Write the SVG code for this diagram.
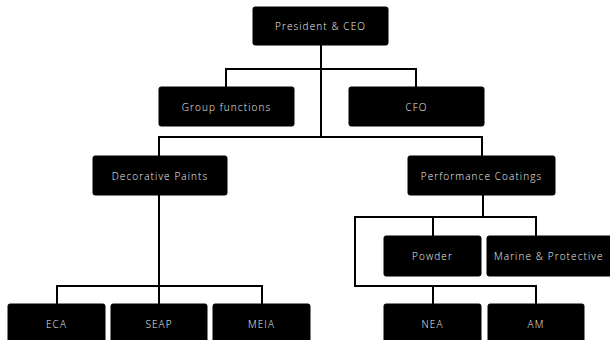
<svg xmlns="http://www.w3.org/2000/svg" width="610" height="340" viewBox="0 0 610 340">
<style>
.box{fill:#000;stroke:#000;stroke-width:1}
.lbl{font-family:"Open Sans","Liberation Sans",sans-serif;font-size:10px;font-weight:300;letter-spacing:1.1px;fill:#f2f2f2;text-anchor:middle;dominant-baseline:central}
.ln{fill:none;stroke:#000;stroke-width:2}
</style>
<rect width="610" height="340" fill="#fff"/>
<g id="connectors">
<path class="ln" d="M321 45V137M226 87V69H416V87M159 156V137H482V156"/>
<path class="ln" d="M159 195V286M57 304V286H262V304M159 286V304"/>
<path class="ln" d="M483 195V217M433 236V217M536 236V217H355V286H536V304M433 286V304"/>
</g>
<g id="ceo"><rect class="box" x="253" y="7" width="135" height="38" rx="2"/><text class="lbl" x="320.5" y="26">President &amp; CEO</text></g>
<g id="group-functions"><rect class="box" x="159" y="87" width="135" height="39" rx="2"/><text class="lbl" x="226.5" y="106.5">Group functions</text></g>
<g id="cfo"><rect class="box" x="349" y="87" width="135" height="39" rx="2"/><text class="lbl" x="416.5" y="106.5">CFO</text></g>
<g id="decorative-paints"><rect class="box" x="93" y="156" width="134" height="39" rx="2"/><text class="lbl" x="160" y="175.5">Decorative Paints</text></g>
<g id="performance-coatings"><rect class="box" x="408" y="156" width="147" height="39" rx="2"/><text class="lbl" x="481.5" y="175.5">Performance Coatings</text></g>
<g id="powder"><rect class="box" x="384" y="236" width="97" height="40" rx="2"/><text class="lbl" x="432.5" y="256">Powder</text></g>
<g id="marine"><rect class="box" x="487" y="236" width="140" height="40" rx="2"/><text class="lbl" x="494" y="256" style="text-anchor:start">Marine &amp; Protective</text></g>
<g id="eca"><rect class="box" x="8" y="304" width="97" height="42" rx="2"/><text class="lbl" x="56.5" y="324">ECA</text></g>
<g id="seap"><rect class="box" x="111" y="304" width="96" height="42" rx="2"/><text class="lbl" x="159" y="324">SEAP</text></g>
<g id="meia"><rect class="box" x="213" y="304" width="97" height="42" rx="2"/><text class="lbl" x="261.5" y="324">MEIA</text></g>
<g id="nea"><rect class="box" x="384" y="304" width="97" height="42" rx="2"/><text class="lbl" x="432.5" y="324">NEA</text></g>
<g id="am"><rect class="box" x="488" y="304" width="96" height="42" rx="2"/><text class="lbl" x="536" y="324">AM</text></g>
</svg>
